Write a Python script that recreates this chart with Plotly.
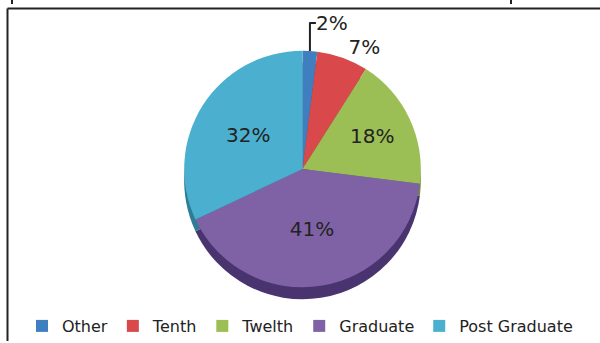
import plotly.graph_objects as go

categories = ["Other", "Tenth", "Twelth", "Graduate", "Post Graduate"]
values = [2, 7, 18, 41, 32]
colors = ["#3F7FC0", "#D9484B", "#9BBF55", "#7F62A6", "#4BB0CF"]
side_colors = ["#2B5A8A", "#8F2F31", "#6C8A38", "#4A3470", "#2E7C95"]
text_positions = ["outside", "outside", "inside", "inside", "inside"]

W, H = 600, 343
depth = 12  # px, thickness of the 3D rim

dom_x = [160 / W, 445 / W]
dom_y = [1 - 289 / H, 1 - 51 / H]

fig = go.Figure()

# rim / depth of the tilted pie (same data, darker, shifted down)
fig.add_trace(
    go.Pie(
        labels=categories,
        values=values,
        sort=False,
        direction="clockwise",
        rotation=0,
        marker=dict(colors=side_colors, line=dict(width=0)),
        textinfo="none",
        hoverinfo="skip",
        domain=dict(x=dom_x, y=[dom_y[0] - depth / H, dom_y[1] - depth / H]),
        showlegend=False,
    )
)

fig.add_trace(
    go.Pie(
        labels=categories,
        values=values,
        sort=False,
        direction="clockwise",
        rotation=0,
        marker=dict(colors=colors, line=dict(width=0)),
        textinfo="percent",
        texttemplate="%{percent:.0%}",
        textposition=text_positions,
        textfont=dict(family="DejaVu Sans", size=20, color="#222222"),
        insidetextorientation="horizontal",
        domain=dict(x=dom_x, y=dom_y),
        showlegend=True,
    )
)

# frame lines (left and top border of the cropped chart box)
fig.add_shape(type="line", xref="paper", yref="paper",
              x0=7.5 / W, x1=1, y0=1 - 8.5 / H, y1=1 - 8.5 / H,
              line=dict(color="#222222", width=2))
fig.add_shape(type="line", xref="paper", yref="paper",
              x0=7.5 / W, x1=7.5 / W, y0=0, y1=1 - 8.5 / H,
              line=dict(color="#222222", width=2))
# fragments of cropped text above the frame
fig.add_shape(type="line", xref="paper", yref="paper",
              x0=12 / W, x1=12 / W, y0=1 - 4 / H, y1=1,
              line=dict(color="#222222", width=2))
fig.add_shape(type="line", xref="paper", yref="paper",
              x0=511 / W, x1=511 / W, y0=1 - 4 / H, y1=1,
              line=dict(color="#222222", width=2))

fig.update_layout(
    width=W, height=H,
    margin=dict(l=0, r=0, t=0, b=0),
    paper_bgcolor="white",
    plot_bgcolor="white",
    font=dict(family="DejaVu Sans", color="#222222"),
    legend=dict(
        orientation="h",
        x=0.5, xanchor="center",
        y=1 - 328 / H, yanchor="middle",
        font=dict(family="DejaVu Sans", size=16, color="#222222"),
        bgcolor="rgba(0,0,0,0)",
    ),
)

fig.write_html(
    "out.html",
    config={"displayModeBar": False},
    post_script="document.body.style.margin='0';document.body.style.padding='0';"
                "document.body.style.overflow='hidden';",
)
